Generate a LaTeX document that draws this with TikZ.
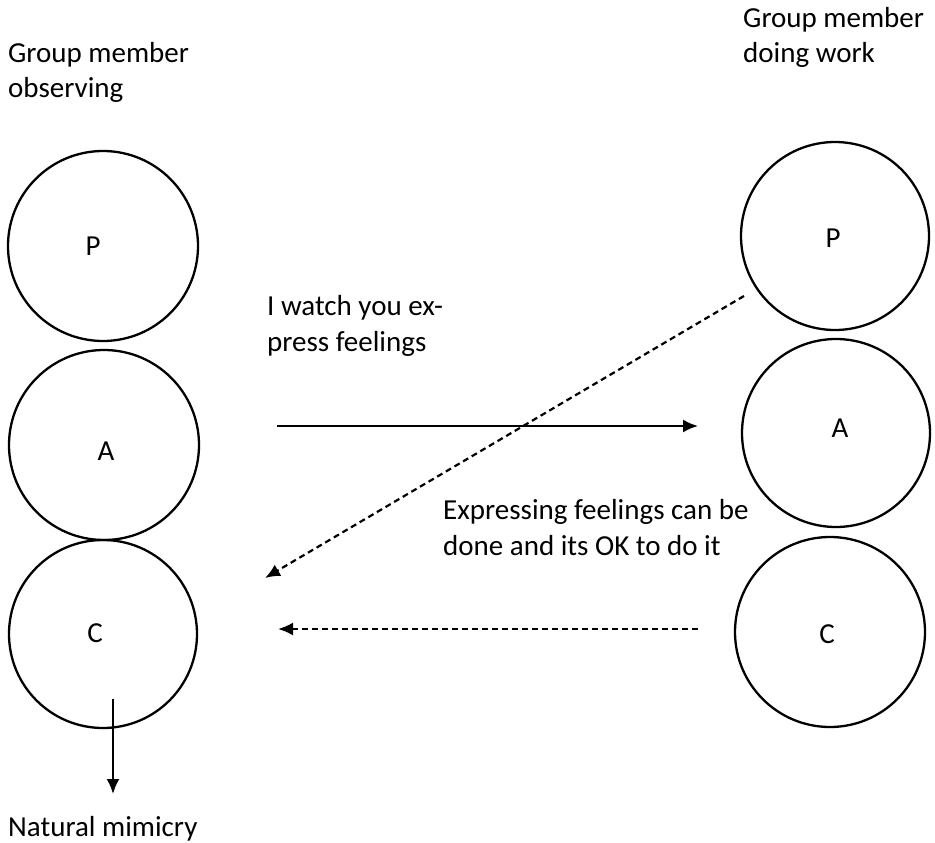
\documentclass[tikz,border=0pt]{standalone}
\usepackage{fontspec}
\setmainfont{Carlito}
\usetikzlibrary{arrows.meta}
\begin{document}
\begin{tikzpicture}[x=1pt,y=-1pt,>={Latex[length=15pt,width=13pt]},
  ego/.style={circle,draw,line width=2.3pt,minimum size=#1,inner sep=0pt},
  lbl/.style={inner sep=0pt,anchor=base west,align=left,font=\fontsize{29}{35.5}\selectfont},
  ltr/.style={inner sep=0pt,font=\fontsize{29}{34}\selectfont},
  fleche/.style={->,line width=2.2pt},
  pointille/.style={->,line width=2.2pt,dash pattern=on 6pt off 4pt}]
\useasboundingbox (0,0) rectangle (935,843);

% the one who watches
\node[lbl] (titreobs) at (8,98) {Group member\\observing};
\node[ego=190pt] (obsP) at (103,246) {};
\node[ego=190pt] (obsA) at (104,445) {};
\node[ego=188pt] (obsC) at (103,634) {};
\node[ltr] (obsPl) at (93,246) {P};
\node[ltr] (obsAl) at (106,451) {A};
\node[ltr] (obsCl) at (95,633) {C};

% the one who works
\node[lbl] (titretrav) at (743,63) {Group member\\doing work};
\node[ego=188pt] (travP) at (835,236) {};
\node[ego=188pt] (travA) at (836,433) {};
\node[ego=190pt] (travC) at (830,632) {};
\node[ltr] (travPl) at (833,238) {P};
\node[ltr] (travAl) at (840,428) {A};
\node[ltr] (travCl) at (827,634) {C};

% messages
\node[lbl] (msgvoir) at (267,351) {I watch you ex-\\press feelings};
\node[lbl] (msgok) at (443,555) {Expressing feelings can be\\done and its OK to do it};
\node[lbl] (mimique) at (8,836) {Natural mimicry};

\coordinate (vA1) at (277,426);
\coordinate (vA2) at (698,426);
\coordinate (dP1) at (744,296);
\coordinate (dP2) at (265,578);
\coordinate (hC1) at (698,629);
\coordinate (hC2) at (278,629);
\coordinate (bas1) at (113,699);
\coordinate (bas2) at (113,794);

\draw[fleche] (vA1) -- (vA2);%A vers A
\draw[pointille] (dP1) -- (dP2);%P vers C
\draw[pointille] (hC1) -- (hC2);%C vers C
\draw[fleche] (bas1) -- (bas2);%vers le bas

\end{tikzpicture}
\end{document}
